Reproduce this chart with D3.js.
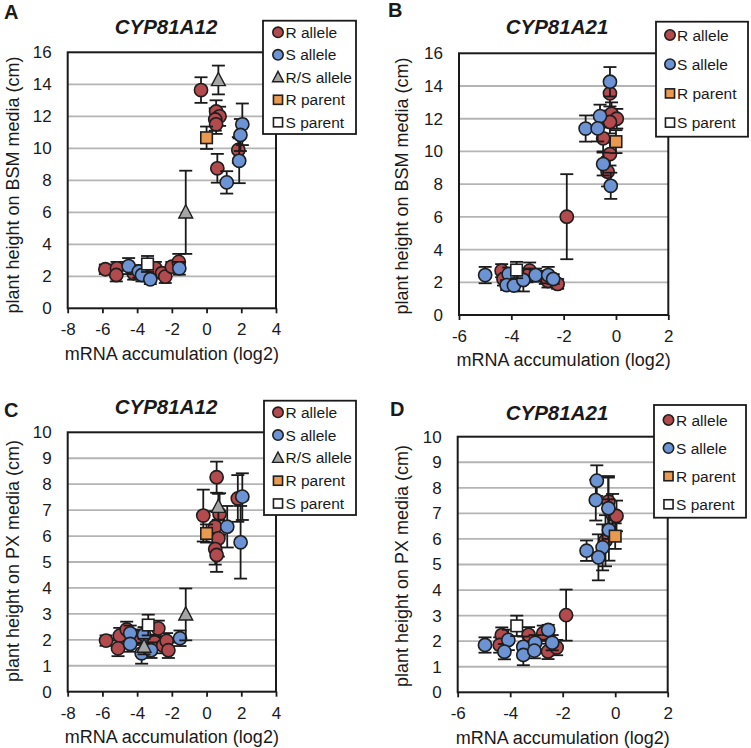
<!DOCTYPE html>
<html><head><meta charset="utf-8">
<script src="https://cdn.jsdelivr.net/npm/d3@7"></script>
<style>
body{margin:0;background:#fff;}
svg text{font-family:"Liberation Sans",Arial,sans-serif;fill:#1a1a1a;}
</style></head>
<body><svg id="c" width="751" height="748"></svg>
<script>
// ---------- DATA : [mRNA log2, height, error] ----------
const A_R = [[-5.83,2.44,0.3],[-5.16,2.5,0.4],[-5.2,2.08,0.4],[-4.2,2.19,0.4],[-2.95,2.5,0.4],[-2.57,2.19,0.3],[-2.38,1.98,0.4],[-2.0,2.6,0.3],[-1.6,2.9,0.5],
  [-0.32,13.64,0.8],[0.55,12.3,0.7],[0.75,12.0,0.6],[0.5,11.8,0.7],[0.55,11.5,0.6],[0.62,8.75,0.9],[1.83,9.9,0.8]];
const A_S = [[-4.49,2.64,0.5],[-3.9,2.3,0.4],[-3.72,2.08,0.4],[-3.24,1.81,0.3],[-1.57,2.5,0.4],[1.16,7.87,0.7],[2.06,11.5,1.3],[1.95,10.83,1.0],[1.88,9.22,1.4]];
const A_RS = [[-1.2,6.0,2.6],[0.68,14.27,0.9]];
const A_Rp = [[0.0,10.66,0.7]];
const A_Sp = [[-3.4,2.77,0.5]];

const B_R = [[-4.37,2.71,0.4],[-4.3,2.2,0.4],[-3.3,2.71,0.5],[-3.4,2.4,0.4],[-2.7,2.3,0.4],[-2.6,2.08,0.4],[-2.23,1.9,0.3],[-1.88,6.01,2.6],
  [-0.23,13.55,0.8],[-0.17,12.3,0.7],[0.03,12.0,0.6],[-0.23,11.8,0.7],[-0.49,10.8,0.8],[-0.23,9.84,0.7],[-0.32,8.76,0.9]];
const B_S = [[-5.0,2.44,0.5],[-4.1,2.5,0.4],[-4.18,1.83,0.3],[-3.9,1.8,0.3],[-3.54,2.14,0.7],[-3.07,2.44,0.4],[-2.59,2.44,0.5],[-2.4,2.2,0.3],
  [-0.23,14.26,0.9],[-0.61,12.16,0.7],[-1.16,11.4,0.8],[-0.7,11.41,0.8],[-0.49,9.23,0.7],[-0.2,7.9,0.8]];
const B_Rp = [[0.0,10.6,0.7]];
const B_Sp = [[-3.8,2.75,0.5]];

const C_R = [[-5.79,1.97,0.2],[-5.0,2.16,0.3],[-5.1,1.67,0.3],[-4.6,2.4,0.3],[-4.0,2.1,0.3],[-3.0,1.9,0.3],[-2.78,2.44,0.3],[-2.5,1.78,0.3],[-2.3,1.96,0.3],[-2.2,1.6,0.3],
  [-0.19,6.79,1.0],[0.58,8.27,0.6],[0.75,6.85,0.8],[0.49,6.36,0.6],[0.68,5.91,0.7],[0.5,5.5,0.6],[0.58,5.27,0.65],[1.8,7.45,0.9]];
const C_S = [[-4.4,2.25,0.3],[-4.4,1.84,0.3],[-3.6,2.19,0.3],[-3.74,1.48,0.4],[-3.2,1.6,0.3],[-1.53,2.06,0.3],[1.19,6.36,0.8],[2.06,7.52,0.9],[1.96,5.76,1.4]];
const C_RS = [[-3.6,1.74,0.3],[-1.2,2.98,1.0],[0.68,7.13,0.5]];
const C_Rp = [[0.0,6.1,0.35]];
const C_Sp = [[-3.36,2.57,0.4]];

const D_R = [[-4.32,2.24,0.3],[-4.4,1.85,0.3],[-3.3,2.25,0.3],[-2.74,2.31,0.3],[-2.56,1.6,0.3],[-2.23,1.75,0.3],[-1.87,3.02,1.0],
  [-0.26,7.46,1.0],[-0.1,6.96,0.8],[0.05,6.9,0.6],[-0.37,5.93,1.0]];
const D_S = [[-4.96,1.85,0.3],[-4.07,2.05,0.4],[-4.22,1.59,0.3],[-3.5,1.78,0.4],[-3.5,1.46,0.4],[-3.05,1.94,0.3],[-3.08,1.63,0.3],[-2.55,2.44,0.2],[-2.4,1.94,0.3],
  [-0.7,8.28,0.6],[-0.74,7.52,0.8],[-0.26,7.2,1.2],[-0.24,6.35,1.2],[-0.48,5.67,0.9],[-1.09,5.54,0.4],[-0.64,5.28,0.9]];
const D_Rp = [[0.0,6.11,0.5]];
const D_Sp = [[-3.75,2.6,0.4]];

const xTicksA = [-8,-6,-4,-2,0,2,4];
const xTicksB = [-6,-4,-2,0,2];
const yTicksBSM = [0,2,4,6,8,10,12,14,16];
const yTicksPX = [0,1,2,3,4,5,6,7,8,9,10];
const titles = ["CYP81A12","CYP81A21","CYP81A12","CYP81A21"];
const letters = ["A","B","C","D"];
const yLabels = ["plant height on BSM media (cm)","plant height on BSM media (cm)","plant height on PX media (cm)","plant height on PX media (cm)"];
const xLabel = "mRNA accumulation (log2)";
const seriesNames = ["R allele","S allele","R/S allele","R parent","S parent"];

// ---------- STYLE ----------
const style = {
  "R allele":  {shape:"circle",  fill:"#b24a4e"},
  "S allele":  {shape:"circle",  fill:"#6c93d3"},
  "R/S allele":{shape:"triangle",fill:"#a5a5a5"},
  "R parent":  {shape:"square",  fill:"#e99a4f"},
  "S parent":  {shape:"square",  fill:"#ffffff"}
};

const panels = [
  {series:{"R allele":A_R,"S allele":A_S,"R/S allele":A_RS,"R parent":A_Rp,"S parent":A_Sp},
   xd:[-8,4], xt:xTicksA, yd:[0,16], yt:yTicksBSM, L:67.7,R:276,T:52.3,B:308.3,
   title:[166,34], letter:[4,18.5], ylab:[13,185],
   leg:{x:263,y:20.7,w:93,h:113.3,y0:32.3,dy:22.5,mx:278,tx:285.5}},
  {series:{"R allele":B_R,"S allele":B_S,"R parent":B_Rp,"S parent":B_Sp},
   xd:[-6,2], xt:xTicksB, yd:[0,16], yt:yTicksBSM, L:459,R:668.3,T:53.3,B:315,
   title:[557,34], letter:[388,17], ylab:[402,186],
   leg:{x:656,y:21.7,w:92,h:115,y0:35,dy:29.2,mx:670,tx:677}},
  {series:{"R allele":C_R,"S allele":C_S,"R/S allele":C_RS,"R parent":C_Rp,"S parent":C_Sp},
   xd:[-8,4], xt:xTicksA, yd:[0,10], yt:yTicksPX, L:67.7,R:276,T:432.3,B:691.7,
   title:[166,414], letter:[4,416.5], ylab:[13,561],
   leg:{x:264,y:400.7,w:92,h:114.3,y0:412.3,dy:22.8,mx:278,tx:285.5}},
  {series:{"R allele":D_R,"S allele":D_S,"R parent":D_Rp,"S parent":D_Sp},
   xd:[-6,2], xt:xTicksB, yd:[0,10], yt:yTicksPX, L:457.7,R:667.7,T:436.7,B:692.3,
   title:[557,419.5], letter:[390,416], ylab:[402,566],
   leg:{x:654,y:405,w:92,h:112.7,y0:420,dy:28.1,mx:668.5,tx:676}}
];

const svg = d3.select("#c");

function marker(g, shape, fill, cx, cy, size){
  if(shape==="circle"){
    g.append("circle").attr("cx",cx).attr("cy",cy).attr("r",size)
     .attr("fill",fill).attr("stroke","#1e1e1e").attr("stroke-width",1.6);
  } else if(shape==="square"){
    const s=size*1.75;
    g.append("rect").attr("x",cx-s/2).attr("y",cy-s/2).attr("width",s).attr("height",s)
     .attr("fill",fill).attr("stroke","#1e1e1e").attr("stroke-width",1.6);
  } else {
    const h=size*1.9, w=size*2.1;
    g.append("path").attr("d",`M${cx},${cy-h*0.6}L${cx+w/2},${cy+h*0.45}L${cx-w/2},${cy+h*0.45}Z`)
     .attr("fill",fill).attr("stroke","#1e1e1e").attr("stroke-width",1.4);
  }
}

const fmt = d => String(d);

panels.forEach((p,i)=>{
  const x = d3.scaleLinear().domain(p.xd).range([p.L,p.R]);
  const y = d3.scaleLinear().domain(p.yd).range([p.B,p.T]);
  const g = svg.append("g");

  // gridlines
  g.append("g").selectAll("line").data(p.yt.filter(v=>v>p.yd[0]&&v<p.yd[1])).join("line")
    .attr("x1",p.L).attr("x2",p.R).attr("y1",d=>y(d)).attr("y2",d=>y(d))
    .attr("stroke","#b4b4b4").attr("stroke-width",1.8);

  // y axis labels
  const ya = g.append("g").attr("transform",`translate(${p.L},0)`)
    .call(d3.axisLeft(y).tickValues(p.yt).tickSize(0).tickPadding(16).tickFormat(fmt));
  ya.select(".domain").remove();
  ya.selectAll("text").attr("font-size",17).style("fill","#1a1a1a");

  // x axis
  const xa = g.append("g").attr("transform",`translate(0,${p.B})`)
    .call(d3.axisBottom(x).tickValues(p.xt).tickSize(5).tickPadding(10).tickFormat(fmt));
  xa.select(".domain").remove();
  xa.selectAll("line").attr("stroke","#1a1a1a").attr("stroke-width",1.8);
  xa.selectAll("text").attr("font-size",17).style("fill","#1a1a1a");

  // series
  Object.entries(p.series).forEach(([name,data])=>{
    const st = style[name];
    const sg = g.append("g");
    data.forEach(d=>{
      const cx=x(d[0]), y1=y(d[1]+d[2]), y2=y(d[1]-d[2]);
      sg.append("line").attr("x1",cx).attr("x2",cx).attr("y1",y1).attr("y2",y2).attr("stroke","#1a1a1a").attr("stroke-width",1.8);
      [y1,y2].forEach(yy=>sg.append("line").attr("x1",cx-6.5).attr("x2",cx+6.5).attr("y1",yy).attr("y2",yy).attr("stroke","#1a1a1a").attr("stroke-width",1.8));
    });
    data.forEach(d=>marker(sg, st.shape, st.fill, x(d[0]), y(d[1]), 6.6));
  });

  // plot frame
  g.append("rect").attr("x",p.L).attr("y",p.T).attr("width",p.R-p.L).attr("height",p.B-p.T)
   .attr("fill","none").attr("stroke","#1a1a1a").attr("stroke-width",2);

  // title, letter, axis titles
  g.append("text").attr("x",p.title[0]).attr("y",p.title[1]).attr("text-anchor","middle")
   .attr("font-size",20.5).attr("font-weight","bold").attr("font-style","italic").text(titles[i]);
  g.append("text").attr("x",p.letter[0]).attr("y",p.letter[1])
   .attr("font-size",20).attr("font-weight","bold").text(letters[i]);
  g.append("text").attr("transform",`translate(${p.ylab[0]},${p.ylab[1]}) rotate(-90)`)
   .attr("text-anchor","middle").attr("dy","0.35em").attr("font-size",18).text(yLabels[i]);
  g.append("text").attr("x",(p.L+p.R)/2).attr("y",p.B+45).attr("dy","0.35em").attr("text-anchor","middle")
   .attr("font-size",18).text(xLabel);

  // legend
  const lg = g.append("g");
  lg.append("rect").attr("x",p.leg.x).attr("y",p.leg.y).attr("width",p.leg.w).attr("height",p.leg.h)
    .attr("fill","#fff").attr("stroke","#1a1a1a").attr("stroke-width",1.8);
  Object.keys(p.series).forEach((name,k)=>{
    const yy = p.leg.y0 + k*p.leg.dy;
    marker(lg, style[name].shape, style[name].fill, p.leg.mx, yy, 5.2);
    lg.append("text").attr("x",p.leg.tx).attr("y",yy).attr("dy","0.36em").attr("font-size",15.5).text(name);
  });
});
</script></body></html>
